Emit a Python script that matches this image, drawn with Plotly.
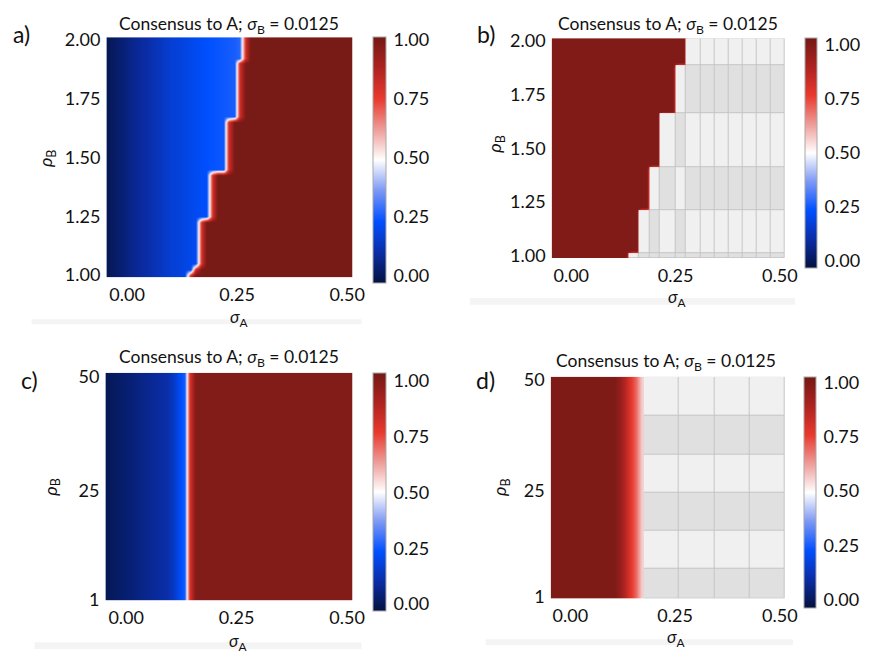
import numpy as np
import plotly.graph_objects as go

W, H = 871, 658

# ---- grid of the simulations -------------------------------------------
# sigma_A column centres and rho_B row centres
sigma_a = np.round(-0.04375 + 0.0125 * np.arange(45), 5)
rho_b = np.round(1.0 + 0.025 * np.arange(41), 3)
rho_b_wide = [1, 25, 50]

# ---- panel a: fraction reaching consensus on A --------------------------
# level of the blue (no-consensus) side, per sigma_A column
blue_level_a = [0.00, 0.015, 0.03, 0.045, 0.06, 0.075, 0.09, 0.10, 0.115, 0.13,
                0.145, 0.16, 0.17, 0.18, 0.19, 0.20, 0.21, 0.22, 0.23,
                0.235, 0.24, 0.245, 0.25, 0.255, 0.27]
# staircase of the switch: upper rho_B of each step and the sigma_A where it flips
a_rho_breaks = [1.0, 1.025, 1.225, 1.425, 1.65, 1.9, 2.0]
a_sigma_switch = [0.135, 0.15, 0.162, 0.189, 0.22, 0.245, 0.268]
a_edge_level = 0.8   # first column past the switch

# ---- panel b: consensus for the stable cells ---------------------------
b_rho_breaks = [1.0, 1.2, 1.4, 1.65, 1.875, 2.0]
b_sigma_switch = [0.135, 0.16, 0.185, 0.21, 0.245, 0.27]
# unreached cells (light = 0, dark = 1), rows bottom to top
b_cell_x = [0.1375, 0.1625, 0.1875, 0.2125, 0.25, 0.275, 0.309, 0.343,
            0.377, 0.411, 0.445, 0.479, 0.5125]
b_cell_y = [0.9875, 1.0125, 1.2125, 1.4125, 1.6625, 1.8875, 2.0125]
b_cells = [
    [0, 1, 1, 1, 1, 1, 1, 1, 1, 1, 1, 1],
    [None, 0, 1, 0, 1, 0, 0, 0, 0, 0, 0, 0],
    [None, None, 0, 1, 0, 1, 1, 1, 1, 1, 1, 1],
    [None, None, None, 0, 1, 0, 0, 0, 0, 0, 0, 0],
    [None, None, None, None, 0, 1, 1, 1, 1, 1, 1, 1],
    [None, None, None, None, None, 0, 0, 0, 0, 0, 0, 0],
]

# ---- panel c: wide rho_B range -----------------------------------------
c_sigma_switch = 0.1375
blue_level_c = [0.00, 0.01, 0.02, 0.03, 0.04, 0.05, 0.06, 0.07, 0.08, 0.09,
                0.10, 0.11, 0.15, 0.21, 0.26]
c_edge_level = 0.8

# ---- panel d: wide rho_B range, stable cells ---------------------------
red_level_d = [1.0, 1.0, 1.0, 1.0, 1.0, 1.0, 1.0, 1.0, 1.0, 1.0, 1.0, 1.0,
               1.0, 0.95, 0.86, 0.77, 0.70, 0.58]
d_cell_x = [0.175, 0.2594, 0.3438, 0.4281, 0.5125]
d_cell_y = [0.56, 7.2, 15.9, 24.5, 33.1, 41.9, 50.66]
d_cells = [[1, 1, 1, 1], [0, 0, 0, 0], [1, 1, 1, 1],
           [0, 0, 0, 0], [1, 1, 1, 1], [0, 0, 0, 0]]

EMPTY = 0.5  # value under the unreached cells

tick01 = [0, 0.25, 0.5, 0.75, 1]
tick01_text = ["0.00", "0.25", "0.50", "0.75", "1.00"]

colorscale = [[0.0, "#04123f"], [0.125, "#0a2da6"], [0.25, "#0050ff"],
              [0.375, "#7c98f4"], [0.5, "#ffffff"], [0.625, "#ee9c98"],
              [0.75, "#e8392d"], [0.875, "#ad2320"], [1.0, "#731915"]]


def step_switch(rho, breaks, switches):
    for b, s in zip(breaks, switches):
        if rho <= b + 1e-9:
            return s
    return switches[-1]


def blue_red_row(levels, switch, edge):
    row = []
    for k, s in enumerate(sigma_a):
        if s < switch:
            row.append(levels[k])
        elif k > 0 and sigma_a[k - 1] < switch:
            row.append(edge)
        else:
            row.append(1.0)
    return row


z_a = [blue_red_row(blue_level_a, step_switch(r, a_rho_breaks, a_sigma_switch),
                    a_edge_level) for r in rho_b]

z_b = []
for r in rho_b:
    s = step_switch(r, b_rho_breaks, b_sigma_switch)
    z_b.append([1.0 if sigma_a[k] < s else EMPTY for k in range(len(sigma_a))])

z_c = [blue_red_row(blue_level_c, c_sigma_switch, c_edge_level)
       for _ in rho_b_wide]

z_d = [[red_level_d[k] if k < len(red_level_d) else EMPTY
        for k in range(len(sigma_a))] for _ in rho_b_wide]


def px(x):
    return x / W


def py(y):
    return 1 - y / H


# plot-area boxes (left, right, top, bottom) and colourbar boxes
panels = [
    dict(box=(108, 358, 29, 276), yr=[0.99, 2.0125], cb=(379, 13, 29, 282),
         zr=(-0.03, 1.012), z=z_a, y=rho_b,
         yt=([1, 1.25, 1.5, 1.75, 2.0], ["1.00", "1.25", "1.50", "1.75", "2.00"])),
    dict(box=(560, 797, 30, 256), yr=[0.99, 2.0125], cb=(817, 12, 30, 266),
         zr=(-0.036, 1.03), z=z_b, y=rho_b,
         yt=([1, 1.25, 1.5, 1.75, 2.0], ["1.00", "1.25", "1.50", "1.75", "2.00"])),
    dict(box=(107, 358, 374, 608), yr=[0.79, 50.86], cb=(379, 13, 374, 619),
         zr=(-0.03, 1.035), z=z_c, y=rho_b_wide,
         yt=([1, 25, 50], ["1", "25", "50"])),
    dict(box=(559, 797, 378, 606), yr=[0.56, 50.66], cb=(816, 12, 378, 616),
         zr=(-0.036, 1.027), z=z_d, y=rho_b_wide,
         yt=([1, 25, 50], ["1", "25", "50"])),
]

TICK_FONT = dict(size=18, family="Lato", color="#111111")

fig = go.Figure()
layout_axes = {}
for i, p in enumerate(panels, start=1):
    sfx = "" if i == 1 else str(i)
    l, r, t, b = p["box"]
    cx, th, ct, cbm = p["cb"]
    fig.add_trace(go.Heatmap(
        x=sigma_a, y=p["y"], z=p["z"], zsmooth="best",
        colorscale=colorscale, zmin=p["zr"][0], zmax=p["zr"][1],
        xaxis="x" + sfx, yaxis="y" + sfx, hoverinfo="skip",
        colorbar=dict(
            x=px(cx), xanchor="left", xpad=0, ypad=0,
            y=py(ct), yanchor="top", len=(cbm - ct) / H, lenmode="fraction",
            thickness=th, outlinewidth=1, outlinecolor="#a8a8a8",
            tickvals=tick01, ticktext=tick01_text, ticks="outside",
            ticklen=4, tickcolor="rgba(0,0,0,0)", tickfont=TICK_FONT,
        ),
    ))
    layout_axes["xaxis" + sfx] = dict(
        domain=[px(l), px(r)], anchor="y" + sfx, range=[-0.047, 0.5125],
        tickvals=[0, 0.25, 0.5], ticktext=["0.00", "0.25", "0.50"],
        showgrid=False, zeroline=False, ticks="", ticklabelstandoff=5,
        tickfont=TICK_FONT)
    layout_axes["yaxis" + sfx] = dict(
        domain=[py(b), py(t)], anchor="x" + sfx, range=p["yr"],
        tickvals=p["yt"][0], ticktext=p["yt"][1],
        showgrid=False, zeroline=False, ticks="", ticklabelstandoff=5,
        tickfont=TICK_FONT)

# unreached cells: grey frame underneath, shaded cells with gaps on top
for sfx, cx_, cy_, cells in (("2", b_cell_x, b_cell_y, b_cells),
                             ("4", d_cell_x, d_cell_y, d_cells)):
    fig.add_trace(go.Heatmap(
        x=cx_, y=cy_, z=cells, zmin=0, zmax=1, showscale=False,
        colorscale=[[0, "#c4c4c4"], [1, "#c4c4c4"]],
        xaxis="x" + sfx, yaxis="y" + sfx, hoverinfo="skip"))
    fig.add_trace(go.Heatmap(
        x=cx_, y=cy_, z=cells, zmin=0, zmax=1, showscale=False, xgap=1, ygap=1,
        colorscale=[[0, "#f0f0f0"], [1, "#e0e0e0"]],
        xaxis="x" + sfx, yaxis="y" + sfx, hoverinfo="skip"))

title = "Consensus to A; <i>σ</i><sub>B</sub> = 0.0125"
annotations = []


def ann(text, x, y, size, **kw):
    annotations.append(dict(text=text, x=px(x), y=py(y), xref="paper",
                            yref="paper", showarrow=False, xanchor="center",
                            yanchor="middle", font=dict(size=size), **kw))


for (tx, ty) in [(232, 16), (678, 16), (232, 359), (676, 363)]:
    ann(title, tx, ty, 17.5)
for (tx, ty) in [(243, 318), (687, 297), (242, 651), (686, 647)]:
    ann("<i>σ</i><sub>A</sub>", tx, ty, 17)
for (tx, ty) in [(48, 153), (503, 138), (52, 491), (508, 491)]:
    ann("<i>ρ</i><sub>B</sub>", tx, ty, 18, textangle=-90)
for lab, tx, ty in [("a)", 22, 26), ("b)", 493, 26), ("c)", 30, 381),
                    ("d)", 493, 381)]:
    ann(lab, tx, ty, 23)

# faint strips under each panel
shapes = []
for x0, x1, y0, y1 in [(32, 367, 319, 324), (477, 807, 297, 304),
                       (35, 367, 651, 658), (493, 805, 648, 654)]:
    shapes.append(dict(type="rect", xref="paper", yref="paper",
                       x0=px(x0), x1=px(x1), y0=py(y1), y1=py(y0),
                       fillcolor="#f4f4f4", line=dict(width=0), layer="below"))

fig.update_layout(
    width=W, height=H, margin=dict(l=0, r=0, t=0, b=0),
    paper_bgcolor="white", plot_bgcolor="white", showlegend=False,
    font=dict(family="Lato", size=17, color="#111111"),
    annotations=annotations, shapes=shapes, **layout_axes)

fig.write_html("out.html")
